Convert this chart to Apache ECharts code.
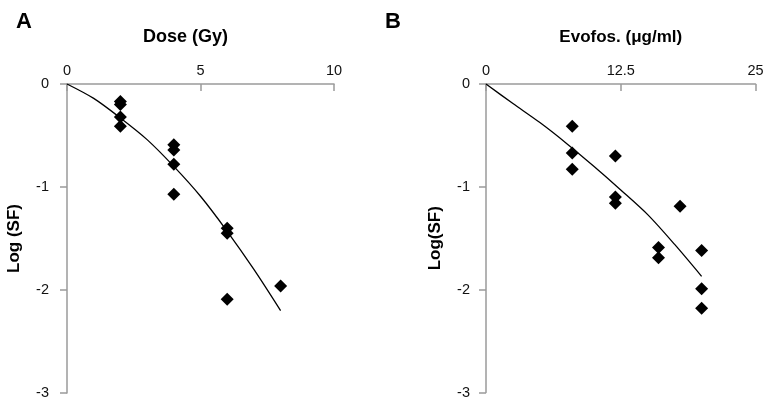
<!DOCTYPE html>
<html>
<head>
<meta charset="utf-8">
<script src="https://cdn.jsdelivr.net/npm/echarts@6/dist/echarts.min.js"></script>
<style>
html,body{margin:0;padding:0;background:#fff;}
#c{width:767px;height:407px;}
</style>
</head>
<body>
<div id="c"></div>
<script>
// Panel A: radiation dose
const doseX = [2, 2, 2, 2, 4, 4, 4, 4, 6, 6, 6, 8];
const doseY = [-0.17, -0.20, -0.32, -0.41, -0.59, -0.64, -0.78, -1.07, -1.40, -1.45, -2.09, -1.96];
const doseFitX = [0, 1, 2, 3, 4, 5, 6, 7, 8];
const doseFitY = [0, -0.14, -0.33, -0.54, -0.80, -1.09, -1.43, -1.80, -2.20];
const doseTicks = [0, 5, 10];

// Panel B: Evofosfamide
const evoX = [8, 8, 8, 12, 12, 12, 16, 16, 18, 20, 20, 20];
const evoY = [-0.41, -0.67, -0.83, -0.70, -1.10, -1.16, -1.59, -1.69, -1.19, -1.62, -1.99, -2.18];
const evoFitX = [0, 2.5, 5, 7.5, 10, 12.5, 15, 17.5, 20];
const evoFitY = [0, -0.19, -0.375, -0.58, -0.80, -1.03, -1.27, -1.56, -1.87];
const evoTicks = [0, 12.5, 25];

const yTicks = [0, -1, -2, -3];

const pair = (xs, ys) => xs.map((x, i) => [x, ys[i]]);

const FONT = '"Liberation Sans", Arial, Helvetica, sans-serif';
const axisLineStyle = { color: '#9a9a9a', width: 1.5 };
const labelStyle = { color: '#111', fontSize: 14.5, fontFamily: FONT };
const nameStyle = { color: '#000', fontSize: 17, fontWeight: 'bold', fontFamily: FONT };

function xAxis(gi, max, interval, name, nameExtra) {
  return {
    type: 'value', gridIndex: gi, position: 'top', min: 0, max: max, interval: interval,
    name: name, nameLocation: 'middle', nameGap: 38,
    nameTextStyle: Object.assign({}, nameStyle, nameExtra || {}),
    axisLine: { show: true, onZero: false, lineStyle: axisLineStyle },
    axisTick: { show: true, inside: true, length: 7, lineStyle: axisLineStyle },
    axisLabel: Object.assign({ margin: 6 }, labelStyle),
    splitLine: { show: false }
  };
}
function yAxis(gi, name, gap, margin) {
  return {
    type: 'value', gridIndex: gi, min: yTicks[3], max: yTicks[0], interval: 1,
    name: name, nameLocation: 'middle', nameGap: gap, nameTextStyle: nameStyle,
    axisLine: { show: true, onZero: false, lineStyle: axisLineStyle },
    axisTick: { show: true, inside: false, length: 7, lineStyle: axisLineStyle },
    axisLabel: Object.assign({ margin: margin }, labelStyle),
    splitLine: { show: false }
  };
}

const chart = echarts.init(document.getElementById('c'), null, { renderer: 'canvas' });
chart.setOption({
  animation: false,
  backgroundColor: '#fff',
  grid: [
    { left: 67, top: 84, width: 267, height: 309 },
    { left: 486, top: 84, width: 269.5, height: 308.5 }
  ],
  xAxis: [
    xAxis(0, doseTicks[2], doseTicks[1], 'Dose (Gy)', { fontSize: 18, padding: [0, 30, 0, 0] }),
    xAxis(1, evoTicks[2], evoTicks[1], 'Evofos. (\u03bcg/ml)')
  ],
  yAxis: [
    yAxis(0, 'Log (SF)', 44, 18),
    yAxis(1, 'Log(SF)', 42, 16)
  ],
  graphic: [
    { type: 'text', left: 16, top: 11, style: { text: 'A', font: 'bold 22px ' + FONT, fill: '#000' } },
    { type: 'text', left: 385, top: 11, style: { text: 'B', font: 'bold 22px ' + FONT, fill: '#000' } }
  ],
  series: [
    { type: 'line', xAxisIndex: 0, yAxisIndex: 0, data: pair(doseFitX, doseFitY), smooth: 0.3,
      showSymbol: false, lineStyle: { color: '#000', width: 1.3 }, z: 2 },
    { type: 'scatter', xAxisIndex: 0, yAxisIndex: 0, data: pair(doseX, doseY), symbol: 'diamond',
      symbolSize: 13, itemStyle: { color: '#000', opacity: 1 }, z: 3 },
    { type: 'line', xAxisIndex: 1, yAxisIndex: 1, data: pair(evoFitX, evoFitY), smooth: 0.3,
      showSymbol: false, lineStyle: { color: '#000', width: 1.3 }, z: 2 },
    { type: 'scatter', xAxisIndex: 1, yAxisIndex: 1, data: pair(evoX, evoY), symbol: 'diamond',
      symbolSize: 13, itemStyle: { color: '#000', opacity: 1 }, z: 3 }
  ]
});
</script>
</body>
</html>
